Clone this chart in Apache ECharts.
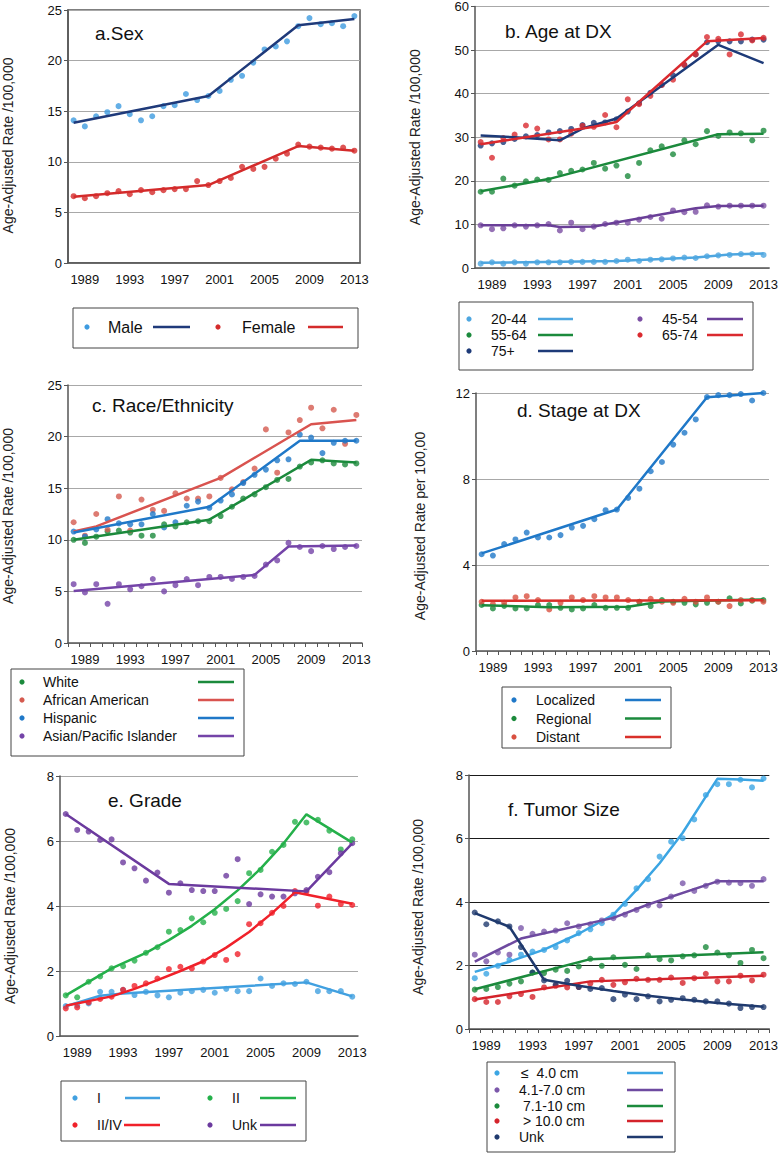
<!DOCTYPE html>
<html><head><meta charset="utf-8">
<script src="https://cdn.jsdelivr.net/npm/echarts@6/dist/echarts.min.js"></script>
<style>html,body{margin:0;padding:0;background:#fff}#c{width:781px;height:1153px}</style>
</head><body><div id="c"></div>
<script>
// ---------- DATA ----------
const years = ['1988','1989','1990','1991','1992','1993','1994','1995','1996','1997','1998','1999','2000','2001','2002','2003','2004','2005','2006','2007','2008','2009','2010','2011','2012','2013'];
const tickYears = ['1989','1993','1997','2001','2005','2009','2013'];

// a. Sex
const maleRates = [14.1,13.5,14.5,14.9,15.5,14.7,14.1,14.5,15.5,15.6,16.7,16.1,16.5,17.0,18.1,18.5,19.8,21.1,21.4,21.9,23.4,24.2,23.6,23.7,23.4,24.4];
const maleFit = [['1988',13.85],['2000',16.5],['2008',23.5],['2013',24.1]];
const femaleRates = [6.6,6.4,6.6,6.9,7.1,6.8,7.2,7.0,7.2,7.3,7.3,8.1,7.7,8.1,8.4,9.5,9.3,9.5,10.3,10.8,11.7,11.5,11.4,11.3,11.4,11.1];
const femaleFit = [['1988',6.55],['2000',7.7],['2008',11.55],['2013',11.1]];

// b. Age at DX
const age2044 = [1.0,1.3,1.0,1.3,1.0,1.3,1.3,1.3,1.4,1.4,1.4,1.4,1.6,1.9,1.6,1.9,2.0,2.2,2.4,2.3,2.7,2.9,3.0,3.2,3.2,3.0];
const age2044Fit = [['1988',1.2],['2000',1.6],['2007',2.4],['2010',3.1],['2013',3.3]];
const age4554 = [9.8,8.9,9.1,9.8,9.5,9.8,10.1,8.6,10.4,8.9,9.5,10.1,10.4,10.4,11.1,11.7,11.3,13.2,12.8,12.9,14.4,14.1,14.3,14.3,14.3,14.3];
const age4554Fit = [['1988',9.8],['1994',9.8],['1995',9.4],['1998',9.5],['2007',13.7],['2009',14.2],['2013',14.3]];
const age5564 = [17.5,17.5,20.5,18.9,19.9,20.3,20.2,21.8,22.3,22.6,24.1,22.8,23.5,21.1,24.1,27.0,27.9,26.1,29.3,28.4,31.4,30.3,31.1,30.9,29.3,31.5];
const age5564Fit = [['1988',17.6],['1994',20.4],['2009',30.7],['2013',30.8]];
const age6574 = [28.9,25.3,29.8,30.6,32.7,32.0,29.5,29.5,30.8,32.6,32.4,35.1,32.3,38.7,37.6,39.5,42.0,43.2,46.6,49.0,53.0,52.6,49.0,53.6,52.2,52.8];
const age6574Fit = [['1988',28.4],['1990',29.2],['1998',32.4],['2000',33.5],['2008',52.0],['2013',52.8]];
const age75 = [28.1,28.6,28.9,29.6,30.2,30.5,31.1,31.4,31.9,32.8,33.3,33.4,34.1,35.9,37.8,40.2,42.0,44.2,46.6,49.0,51.8,52.0,52.0,52.0,52.4,52.4];
const age75Fit = [['1988',30.4],['1991',30.0],['1995',29.3],['1997',32.0],['2000',34.3],['2009',51.2],['2013',47.0]];

// c. Race/Ethnicity
const white = [10.0,9.7,10.3,10.8,10.9,10.7,10.4,10.4,11.5,11.3,11.7,11.8,11.8,12.3,13.2,14.0,14.4,15.1,15.8,15.9,17.1,17.5,17.7,17.4,17.3,17.4];
const whiteFit = [['1988',10.0],['2000',11.95],['2009',17.75],['2013',17.5]];
const africanAmerican = [11.7,10.4,12.5,11.0,14.2,10.9,13.9,12.9,12.8,14.5,14.0,14.0,14.2,16.0,14.9,15.6,16.9,20.7,16.5,20.4,21.6,22.8,20.8,22.6,19.3,22.1];
const africanAmericanFit = [['1988',10.8],['1990',11.3],['2001',16.0],['2009',21.2],['2013',21.6]];
const hispanic = [10.8,10.3,11.0,12.0,11.6,11.5,11.5,12.5,11.2,11.7,13.3,13.7,13.1,13.8,14.4,15.5,16.3,16.8,17.7,17.8,20.2,19.9,18.4,19.4,19.6,19.6];
const hispanicFit = [['1988',10.7],['2000',13.2],['2008',19.6],['2013',19.6]];
const asianPI = [5.7,4.9,5.7,3.8,5.7,5.2,5.5,6.2,5.0,5.6,6.2,5.6,6.4,6.4,6.2,6.4,6.5,7.6,8.0,9.7,9.3,8.9,9.4,9.1,9.3,9.4];
const asianPIFit = [['1988',5.05],['2004',6.6],['2007',9.35],['2013',9.45]];

// d. Stage at DX
const localized = [4.5,4.44,4.97,5.19,5.51,5.28,5.28,5.39,5.74,5.82,6.13,6.55,6.58,7.12,7.55,8.36,8.79,9.6,10.15,10.77,11.81,11.9,11.9,11.95,11.65,12.0];
const localizedFit = [['1988',4.54],['2000',6.58],['2008',11.8],['2013',12.0]];
const regional = [2.14,1.98,2.1,1.98,1.98,2.14,2.14,2.01,1.93,1.98,2.14,2.01,2.01,2.01,2.29,2.09,2.37,2.29,2.24,2.17,2.24,2.29,2.45,2.21,2.34,2.37];
const regionalFit = [['1988',2.13],['1994',2.03],['2001',2.06],['2004',2.3],['2013',2.4]];
const distant = [2.29,2.18,2.24,2.49,2.55,2.37,1.93,2.24,2.49,2.37,2.55,2.49,2.49,2.37,2.29,2.43,2.29,2.24,2.43,2.29,2.49,2.29,2.09,2.37,2.37,2.29];
const distantFit = [['1988',2.34],['2013',2.36]];

// e. Grade
const gradeI = [0.92,0.95,1.0,1.36,1.36,1.42,1.26,1.36,1.25,1.19,1.33,1.38,1.42,1.33,1.45,1.38,1.38,1.77,1.54,1.62,1.6,1.67,1.38,1.38,1.38,1.21];
const gradeIFit = [['1988',0.92],['1991',1.24],['1993',1.31],['2009',1.65],['2013',1.22]];
const gradeII = [1.25,1.19,1.67,1.83,2.08,2.15,2.32,2.56,2.73,3.21,3.26,3.62,3.5,3.79,3.91,4.15,5.01,5.11,5.67,5.88,6.59,6.57,6.65,6.32,5.74,6.05];
const gradeIIFit = [['1988',1.25],['1992',2.08],['1995',2.56],['1997',2.95],['1999',3.39],['2001',3.9],['2003',4.48],['2005',5.15],['2007',5.92],['2009',6.82],['2013',5.95]];
const gradeIIIIV = [0.85,0.88,1.03,1.14,1.21,1.42,1.54,1.62,1.77,2.06,2.13,2.08,2.29,2.49,2.34,2.52,3.44,3.47,3.79,4.0,4.46,4.44,4.01,4.29,4.06,4.03];
const gradeIIIIVFit = [['1988',0.93],['1992',1.22],['1994',1.45],['1996',1.72],['1998',2.0],['2000',2.3],['2002',2.72],['2004',3.2],['2006',3.78],['2008',4.42],['2013',4.07]];
const gradeUnk = [6.83,6.34,6.29,6.03,6.05,5.34,5.16,4.78,5.03,4.41,4.7,4.49,4.46,4.46,4.93,5.44,4.06,4.36,4.29,4.29,4.39,4.49,4.9,5.04,5.62,5.93];
const gradeUnkFit = [['1988',6.83],['1997',4.68],['2009',4.45],['2013',5.93]];

// f. Tumor Size
const sizeLe4 = [1.6,1.74,1.99,2.18,2.34,2.44,2.49,2.58,2.79,3.02,3.14,3.33,3.6,3.94,4.43,4.72,5.43,5.9,6.01,6.6,7.37,7.71,7.71,7.85,7.61,7.89];
const sizeLe4Fit = [['1988',1.8],['1991',2.12],['1994',2.5],['1997',3.0],['2000',3.6],['2002',4.38],['2004',5.22],['2006',6.18],['2008',7.32],['2009',7.88],['2011',7.86],['2013',7.82]];
const size41to70 = [2.34,2.13,2.41,2.34,3.18,3.0,3.07,3.1,3.33,3.23,3.3,3.42,3.49,3.6,3.75,3.89,3.89,4.17,4.59,4.35,4.51,4.64,4.61,4.59,4.51,4.72];
const size41to70Fit = [['1988',2.12],['1992',2.85],['2000',3.5],['2003',3.92],['2009',4.65],['2013',4.65]];
const size71to10 = [1.24,1.26,1.32,1.43,1.5,1.78,1.76,1.87,1.83,1.97,2.21,1.99,2.26,2.02,1.89,2.32,2.2,2.16,2.29,2.32,2.58,2.41,2.32,2.08,2.49,2.23];
const size71to10Fit = [['1988',1.25],['1998',2.2],['2013',2.42]];
const sizeGt10 = [0.94,0.85,0.85,1.03,1.1,1.01,1.31,1.36,1.31,1.32,1.43,1.55,1.39,1.47,1.58,1.55,1.55,1.62,1.45,1.6,1.74,1.5,1.5,1.68,1.53,1.71];
const sizeGt10Fit = [['1988',0.93],['1998',1.5],['2013',1.68]];
const sizeUnk = [3.67,3.3,3.39,3.23,2.58,1.78,1.53,1.39,1.52,1.32,1.26,1.29,0.94,1.08,0.94,1.03,0.87,0.92,0.97,0.92,0.87,0.87,0.8,0.66,0.69,0.69];
const sizeUnkFit = [['1988',3.65],['1991',3.22],['1994',1.55],['1997',1.36],['2000',1.2],['2003',1.05],['2006',0.93],['2009',0.82],['2013',0.7]];

// ---------- LAYOUT / STYLE ----------
const FONT = 'Liberation Sans, Arial, Helvetica, sans-serif';
const panels = [
  {grid:{left:67,top:10,width:293,height:253}, max:25, interval:5, title:'a.Sex', tl:[95,24], yname:'Age-Adjusted Rate /100,000', gap:53, shift:18, ticks:false, gridColor:'#a8a8a8', frame:true,
   series:[
     {name:'Male', pts:maleRates, fit:maleFit, dot:'#3d9be0', line:'#1f3a7a'},
     {name:'Female', pts:femaleRates, fit:femaleFit, dot:'#d42b2b', line:'#d42b2b'}]},
  {grid:{left:475,top:6,width:295,height:262}, max:60, interval:10, title:'b. Age at DX', tl:[505,22], yname:'Age-Adjusted Rate /100,000', gap:53, shift:0, ticks:false, gridColor:'#a8a8a8',
   series:[
     {name:'20-44', pts:age2044, fit:age2044Fit, dot:'#4da6e0', line:'#4da6e0'},
     {name:'45-54', pts:age4554, fit:age4554Fit, dot:'#7b4ea3', line:'#6a3f98'},
     {name:'55-64', pts:age5564, fit:age5564Fit, dot:'#1b8a3c', line:'#1b8a3c'},
     {name:'75+', pts:age75, fit:age75Fit, dot:'#1d3a78', line:'#1d3a78'},
     {name:'65-74', pts:age6574, fit:age6574Fit, dot:'#da2a2f', line:'#da2a2f'}]},
  {grid:{left:66,top:385,width:296,height:258}, max:25, interval:5, title:'c. Race/Ethnicity', tl:[92,396], yname:'Age-Adjusted Rate /100,000', gap:53, shift:4, ticks:true, gridColor:'#a8a8a8',
   series:[
     {name:'White', pts:white, fit:whiteFit, dot:'#1b8a3c', line:'#1b8a3c'},
     {name:'African American', pts:africanAmerican, fit:africanAmericanFit, dot:'#d55a4f', line:'#d9534f'},
     {name:'Hispanic', pts:hispanic, fit:hispanicFit, dot:'#1f78c8', line:'#1f78c8'},
     {name:'Asian/Pacific Islander', pts:asianPI, fit:asianPIFit, dot:'#7444a8', line:'#7444a8'}]},
  {grid:{left:476,top:393,width:293,height:258}, max:12, interval:4, title:'d. Stage at DX', tl:[517,401], yname:'Age-Adjusted Rate per 100,00', gap:49, shift:8, ticks:true, gridColor:'#a8a8a8',
   series:[
     {name:'Localized', pts:localized, fit:localizedFit, dot:'#1f78c8', line:'#1f78c8'},
     {name:'Regional', pts:regional, fit:regionalFit, dot:'#1b8a3c', line:'#1b8a3c'},
     {name:'Distant', pts:distant, fit:distantFit, dot:'#d95040', line:'#d9302a'}]},
  {grid:{left:60,top:776,width:298,height:260}, max:8, interval:2, title:'e. Grade', tl:[108,791], yname:'Age-Adjusted Rate /100,000', gap:43, shift:20, ticks:false, gridColor:'#a8a8a8',
   series:[
     {name:'I', pts:gradeI, fit:gradeIFit, dot:'#41a0e0', line:'#41a0e0'},
     {name:'II', pts:gradeII, fit:gradeIIFit, dot:'#24b04a', line:'#24b04a'},
     {name:'II/IV', pts:gradeIIIIV, fit:gradeIIIIVFit, dot:'#f0212a', line:'#f0212a'},
     {name:'Unk', pts:gradeUnk, fit:gradeUnkFit, dot:'#6b3a9e', line:'#6b3a9e'}]},
  {grid:{left:469,top:775,width:301,height:254}, max:8, interval:2, title:'f. Tumor Size', tl:[508,800], yname:'Age-Adjusted Rate /100,000', gap:44, shift:10, ticks:true, gridColor:'#1a1a1a',
   series:[
     {name:'≤ 4.0 cm', pts:sizeLe4, fit:sizeLe4Fit, dot:'#3ba5e3', line:'#3ba5e3'},
     {name:'4.1-7.0 cm', pts:size41to70, fit:size41to70Fit, dot:'#7b57aa', line:'#6e4aa0'},
     {name:'7.1-10 cm', pts:size71to10, fit:size71to10Fit, dot:'#1b8a3c', line:'#1b8a3c'},
     {name:'> 10.0 cm', pts:sizeGt10, fit:sizeGt10Fit, dot:'#d4232b', line:'#d4232b'},
     {name:'Unk', pts:sizeUnk, fit:sizeUnkFit, dot:'#1f3a6e', line:'#1f3a6e'}]}
];

const grids = [], xAxes = [], yAxes = [], titles = [], series = [];
panels.forEach((p, i) => {
  grids.push(Object.assign({containLabel:false, show:!!p.frame, borderColor:'#555', borderWidth:1.5}, p.grid));
  xAxes.push({
    type:'category', gridIndex:i, data:years, boundaryGap:true,
    axisLine:{show:true, lineStyle:{color:'#555', width:1.5}},
    axisTick:{show:p.ticks, interval:0, length:4, lineStyle:{color:'#555'}},
    axisLabel:{interval:(idx, val) => tickYears.includes(val), margin:10, fontSize:13, color:'#111', fontFamily:FONT},
    splitLine:{show:false}
  });
  yAxes.push({
    type:'value', gridIndex:i, min:0, max:p.max, interval:p.interval,
    name:p.yname, nameLocation:'middle', nameGap:p.gap,
    nameTextStyle:{fontSize:14, color:'#222', fontFamily:FONT, padding:[0, p.shift, 0, 0]},
    axisLine:{show:true, lineStyle:{color:'#555', width:1.5}},
    axisTick:{show:true, length:4, lineStyle:{color:'#555'}},
    axisLabel:{fontSize:13, color:'#111', margin:6, fontFamily:FONT},
    splitLine:{show:true, lineStyle:{color:p.gridColor, width:1.2}}
  });
  titles.push({text:p.title, left:p.tl[0], top:p.tl[1], padding:0,
    textStyle:{fontSize:19, fontWeight:'normal', color:'#111', fontFamily:FONT}});
  p.series.forEach(s => {
    series.push({type:'scatter', name:s.name, xAxisIndex:i, yAxisIndex:i, data:s.pts,
      symbolSize:6, itemStyle:{color:s.dot}, z:2});
  });
  p.series.forEach(s => {
    series.push({type:'line', name:s.name+' fit', xAxisIndex:i, yAxisIndex:i, data:s.fit,
      symbol:'none', lineStyle:{color:s.line, width:2.5}, z:3});
  });
});

// ---------- LEGENDS (drawn as graphic elements) ----------
function legend(box, fontSize, items) {
  const els = [{type:'rect', shape:{x:box[0], y:box[1], width:box[2], height:box[3]},
    style:{fill:'#fff', stroke:'#444', lineWidth:1}, z:10}];
  items.forEach(it => {
    els.push({type:'circle', shape:{cx:it.mx, cy:it.y, r:2.6}, style:{fill:it.dot}, z:11});
    els.push({type:'text', x:it.tx, y:it.y, style:{text:it.label, font:fontSize+'px '+FONT, fill:'#111',
      verticalAlign:'middle', textVerticalAlign:'middle'}, z:11});
    els.push({type:'line', shape:{x1:it.l1, y1:it.y, x2:it.l2, y2:it.y}, style:{stroke:it.line, lineWidth:2.5}, z:11});
  });
  return els;
}
const P = panels;
const graphics = [].concat(
  legend([73,308,285,40], 16, [
    {label:'Male', mx:87, tx:108, l1:153, l2:190, y:327, dot:P[0].series[0].dot, line:P[0].series[0].line},
    {label:'Female', mx:218, tx:242, l1:308, l2:343, y:327, dot:P[0].series[1].dot, line:P[0].series[1].line}]),
  legend([459,302,294,68], 14, [
    {label:'20-44', mx:469, tx:491, l1:538, l2:573, y:319, dot:'#4da6e0', line:'#4da6e0'},
    {label:'45-54', mx:640, tx:662, l1:707, l2:743, y:319, dot:'#7b4ea3', line:'#6a3f98'},
    {label:'55-64', mx:469, tx:491, l1:538, l2:573, y:335, dot:'#1b8a3c', line:'#1b8a3c'},
    {label:'65-74', mx:640, tx:662, l1:707, l2:743, y:335, dot:'#da2a2f', line:'#da2a2f'},
    {label:'75+', mx:469, tx:491, l1:538, l2:573, y:351, dot:'#1d3a78', line:'#1d3a78'}]),
  legend([11,669,233,87], 14, P[2].series.map((s, k) => ({label:s.name, mx:22, tx:43, l1:198, l2:234, y:682+k*18, dot:s.dot, line:s.line}))),
  legend([502,687,169,61], 14, P[3].series.map((s, k) => ({label:s.name, mx:514, tx:536, l1:625, l2:661, y:700+k*18.5, dot:s.dot, line:s.line}))),
  legend([61,1081,245,60], 14, [
    {label:'I', mx:75, tx:97, l1:125, l2:160, y:1098, dot:'#41a0e0', line:'#41a0e0'},
    {label:'II', mx:210, tx:232, l1:260, l2:296, y:1098, dot:'#24b04a', line:'#24b04a'},
    {label:'II/IV', mx:75, tx:97, l1:124, l2:160, y:1125, dot:'#f0212a', line:'#f0212a'},
    {label:'Unk', mx:210, tx:232, l1:260, l2:296, y:1125, dot:'#6b3a9e', line:'#6b3a9e'}]),
  legend([487,1062,188,90], 14, [
    {label:'≤  4.0 cm', mx:497, tx:521, l1:627, l2:663, y:1073, dot:'#3ba5e3', line:'#3ba5e3'},
    {label:'4.1-7.0 cm', mx:497, tx:519, l1:627, l2:663, y:1090, dot:'#7b57aa', line:'#6e4aa0'},
    {label:' 7.1-10 cm', mx:497, tx:519, l1:627, l2:663, y:1106, dot:'#1b8a3c', line:'#1b8a3c'},
    {label:' > 10.0 cm', mx:497, tx:519, l1:627, l2:663, y:1121, dot:'#d4232b', line:'#d4232b'},
    {label:'Unk', mx:497, tx:519, l1:627, l2:663, y:1137, dot:'#1f3a6e', line:'#1f3a6e'}])
);

const chart = echarts.init(document.getElementById('c'), null, {renderer:'svg', width:781, height:1153});
chart.setOption({
  animation:false,
  backgroundColor:'#fff',
  textStyle:{fontFamily:FONT},
  title:titles, grid:grids, xAxis:xAxes, yAxis:yAxes, series:series,
  graphic:{elements:graphics}
});
</script>
</body></html>
